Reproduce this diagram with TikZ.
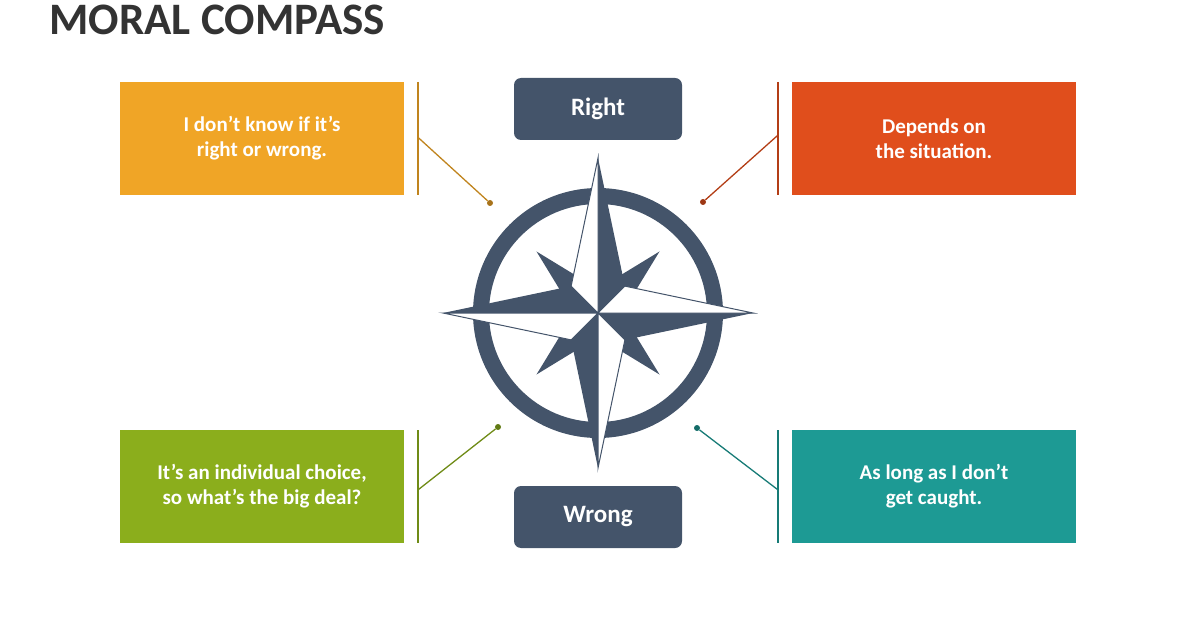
\documentclass[tikz,border=0pt]{standalone}
\usepackage{fontspec}
\setmainfont{Carlito}
\usepackage{tikz}
\usetikzlibrary{calc}

\definecolor{navy}{HTML}{44546A}
\definecolor{cOrange}{HTML}{F0A526}
\definecolor{cRed}{HTML}{E04E1C}
\definecolor{cGreen}{HTML}{8BAE1C}
\definecolor{cTeal}{HTML}{1D9A94}

\tikzset{
    box/.style={minimum width=284pt, minimum height=113pt, inner sep=0pt,
        text=white, font=\bfseries\fontsize{21}{25}\selectfont, align=center},
    pole/.style={minimum width=168pt, minimum height=62pt, inner sep=0pt,
        fill=navy, rounded corners=7pt, text=white, font=\bfseries\fontsize{25}{28}\selectfont},
    bar/.style={line width=1.5pt},
    link/.style={line width=1.3pt},
    dot/.style={circle, inner sep=0pt, minimum size=6pt},
}

\begin{document}
\begin{tikzpicture}[x=1pt, y=-1pt]
    \useasboundingbox (0,0) rectangle (1196,628);

    % Title
    \node[anchor=west, font=\bfseries\fontsize{45}{50}\selectfont, text=black!80] (title) at (46,20) {MORAL COMPASS};

    % Define nodes
    \node[box, fill=cOrange] (tl) at (262,138.5) {I don’t know if it’s\\right or wrong.};
    \node[box, fill=cRed] (tr) at (934,138.5) {Depends on\\the situation.};
    \node[box, fill=cGreen] (bl) at (262,486.5) {It’s an individual choice,\\so what’s the big deal?};
    \node[box, fill=cTeal] (br) at (934,486.5) {As long as I don’t\\get caught.};

    \node[pole] (right) at (598,109) {Right};
    \node[pole] (wrong) at (598,517) {Wrong};

    \coordinate (c) at (598,313);
    \node[dot, fill=cOrange!70!black] (dtl) at (490,203) {};
    \node[dot, fill=cRed!70!black] (dtr) at (703,202) {};
    \node[dot, fill=cGreen!70!black] (dbl) at (498,427) {};
    \node[dot, fill=cTeal!70!black] (dbr) at (697,428) {};

    \coordinate (ttl) at (418,82);  \coordinate (btl) at (418,195);
    \coordinate (ttr) at (778,82);  \coordinate (btr) at (778,195);
    \coordinate (tbl) at (418,430); \coordinate (bbl) at (418,543);
    \coordinate (tbr) at (778,430); \coordinate (bbr) at (778,543);

    % Draw bars and links
    \draw[bar, cOrange!80!black] (ttl) -- (btl);
    \draw[bar, cRed!80!black] (ttr) -- (btr);
    \draw[bar, cGreen!80!black] (tbl) -- (bbl);
    \draw[bar, cTeal!80!black] (tbr) -- (bbr);

    \draw[link, cOrange!80!black] ($(ttl)!0.49!(btl)$) -- (dtl);
    \draw[link, cRed!80!black] ($(ttr)!0.47!(btr)$) -- (dtr);
    \draw[link, cGreen!80!black] ($(tbl)!0.53!(bbl)$) -- (dbl);
    \draw[link, cTeal!80!black] ($(tbr)!0.53!(bbr)$) -- (dbr);

    % Compass ring
    \draw[navy, line width=16pt] (c) circle (117);

    % Diagonal points
    \foreach \a in {45,135,225,315}
        \fill[navy] (c) -- ($(c)+(\a-45:24)$) -- ($(c)+(\a:87)$) -- ($(c)+(\a+45:24)$) -- cycle;

    % Main points
    \foreach \a in {90,0,270,180} {
        \fill[navy] (c) -- ($(c)+(-\a:155)$) -- ($(c)+(-\a+45:38)$) -- cycle;
        \filldraw[fill=white, draw=navy, line width=1pt] (c) -- ($(c)+(-\a:155)$) -- ($(c)+(-\a-45:38)$) -- cycle;
    }
\end{tikzpicture}
\end{document}
